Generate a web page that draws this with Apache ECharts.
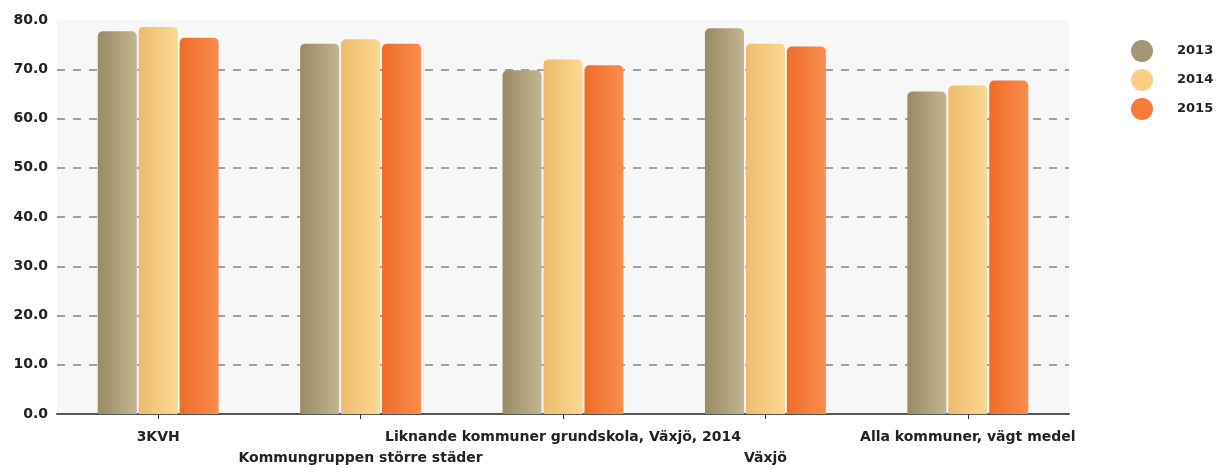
<!DOCTYPE html>
<html>
<head>
<meta charset="utf-8">
<script src="https://cdn.jsdelivr.net/npm/echarts@6/dist/echarts.min.js"></script>
<style>
  html, body { margin: 0; padding: 0; background: #fff; }
  #chartmain { width: 1217px; height: 469px; }
</style>
</head>
<body>
<div id="chartmain"></div>
<script>
// kategorier och värden
var categories = ['3KVH', 'Kommungruppen större städer', 'Liknande kommuner grundskola, Växjö, 2014', 'Växjö', 'Alla kommuner, vägt medel'];
var years = ['2013', '2014', '2015'];
var data2013 = [77.7, 75.2, 69.8, 78.3, 65.5];
var data2014 = [78.6, 76.1, 72.0, 75.2, 66.7];
var data2015 = [76.4, 75.2, 70.8, 74.6, 67.7];
var yTicks = [0, 80, 10];

var font = 'DejaVu Sans';

function grad(a, b) {
  return new echarts.graphic.LinearGradient(0, 0, 1, 0, [
    { offset: 0, color: a },
    { offset: 1, color: b }
  ]);
}

var barStyles = [
  { color: grad('#988a62', '#c2b593'), legend: '#a39677' },
  { color: grad('#eebb6c', '#fcd892'), legend: '#fbce84' },
  { color: grad('#ef6b28', '#f98e4e'), legend: '#f57a3b' }
];

var seriesData = [data2013, data2014, data2015];

var chart = echarts.init(document.getElementById('chartmain'));
var option = {
  animation: false,
  backgroundColor: '#ffffff',
  grid: {
    left: 57,
    right: 148,
    top: 20,
    bottom: 49,
    show: true,
    backgroundColor: '#f7f7f7',
    borderWidth: 0
  },
  legend: {
    orient: 'vertical',
    left: 1126,
    top: 35,
    itemWidth: 22,
    itemHeight: 22,
    itemGap: 7,
    icon: 'circle',
    textStyle: { fontFamily: font, fontSize: 13, fontWeight: 'bold', color: '#222', padding: [0, 0, 0, 19] },
    data: years.map(function (y, i) {
      return { name: y, itemStyle: { color: barStyles[i].legend } };
    })
  },
  xAxis: {
    type: 'category',
    data: categories,
    axisLine: { lineStyle: { color: '#555', width: 2 } },
    axisTick: { show: true, alignWithLabel: true, length: 5, lineStyle: { color: '#333' } },
    axisLabel: {
      interval: 0,
      margin: 13,
      fontFamily: font,
      fontSize: 14,
      fontWeight: 'bold',
      color: '#222',
      lineHeight: 21,
      formatter: function (v, i) { return i % 2 ? '\n' + v : v; }
    }
  },
  yAxis: {
    type: 'value',
    min: yTicks[0],
    max: yTicks[1],
    interval: yTicks[2],
    axisLine: { show: false },
    axisTick: { show: false },
    axisLabel: {
      margin: 9,
      fontFamily: font,
      fontSize: 14,
      fontWeight: 'bold',
      color: '#222',
      formatter: function (v) { return v.toFixed(1); }
    },
    splitLine: {
      show: true,
      showMaxLine: false,
      lineStyle: { color: '#858585', width: 1.5, type: [8, 8] }
    }
  },
  series: years.map(function (y, i) {
    return {
      name: y,
      type: 'bar',
      barWidth: 39,
      barGap: '5%',
      data: seriesData[i],
      itemStyle: {
        color: barStyles[i].color,
        borderRadius: [5, 5, 0, 0]
      }
    };
  })
};
chart.setOption(option);
</script>
</body>
</html>
